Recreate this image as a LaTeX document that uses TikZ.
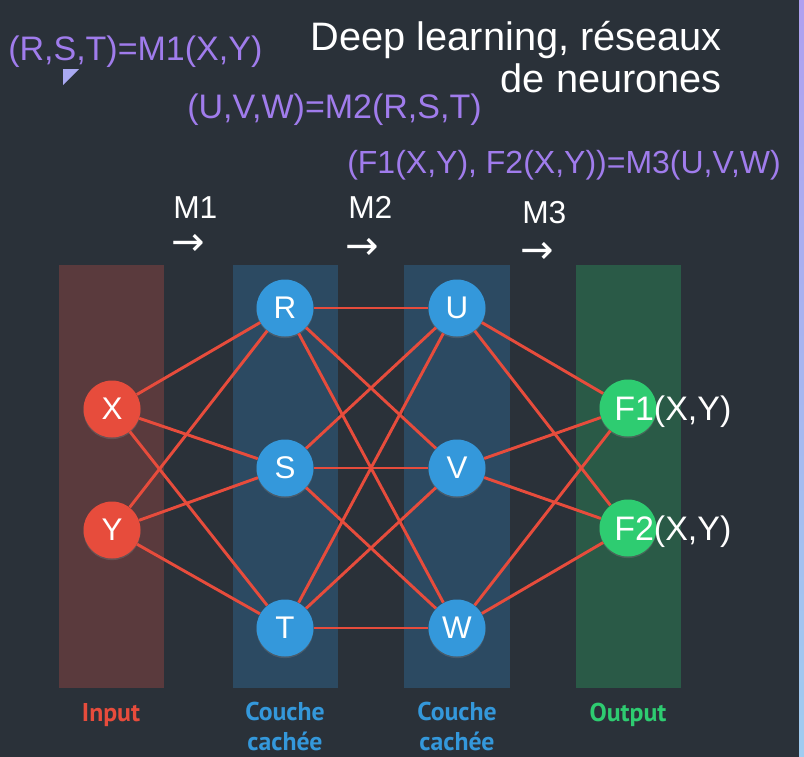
\documentclass[tikz,border=0pt]{standalone}
\usepackage{fontspec}
\setmainfont{Liberation Sans}
\newfontfamily\capfont{PT Sans}
\newfontfamily\arrowfont{DejaVu Sans}
\usetikzlibrary{shadows}

\definecolor{bgcol}{HTML}{2A3139}
\definecolor{incol}{HTML}{5A3A3D}
\definecolor{hidcol}{HTML}{2C4A62}
\definecolor{outcol}{HTML}{2A5A47}
\definecolor{nodered}{HTML}{E74C3C}
\definecolor{nodeblue}{HTML}{3498DB}
\definecolor{nodegreen}{HTML}{2ECC71}
\definecolor{formcol}{HTML}{A07CEC}
\definecolor{tricol}{HTML}{A9A9F2}
\definecolor{stripA}{HTML}{AFA0F0}
\definecolor{stripB}{HTML}{A0CCF0}

\begin{document}
\begin{tikzpicture}[x=0.75pt,y=-0.75pt]

  \tikzstyle{neuron}=[circle,minimum size=42.75pt,inner sep=0pt,text=white,font=\fontsize{23.5}{23.5}\selectfont,drop shadow={opacity=0.35,shadow xshift=0pt,shadow yshift=-1.2pt}]
  \tikzstyle{innode}=[neuron,fill=nodered,node distance=90.75pt]
  \tikzstyle{hidnode}=[neuron,fill=nodeblue,node distance=120pt]
  \tikzstyle{outnode}=[neuron,fill=nodegreen,node distance=90pt]

  \tikzstyle{titletext}=[anchor=base east,inner sep=0pt,text=white,font=\fontsize{29.8}{31.5}\selectfont]
  \tikzstyle{formula}=[anchor=base west,inner sep=0pt,text=formcol,font=\fontsize{25.5}{25.5}\selectfont]
  \tikzstyle{steplab}=[anchor=base west,inner sep=0pt,text=white,font=\fontsize{23.8}{23.8}\selectfont]
  \tikzstyle{steparrow}=[inner sep=0pt,text=white,font=\arrowfont\fontsize{30}{30}\selectfont]
  \tikzstyle{outtext}=[anchor=base west,inner sep=0pt,text=white,font=\fontsize{25.5}{25.5}\selectfont]
  \tikzstyle{collab}=[anchor=base,inner sep=0pt,align=center,font=\capfont\bfseries\fontsize{19.3}{21.8}\selectfont]

  \tikzstyle{link}=[draw=nodered,line width=2.2pt]

  % background and layers
  \fill[bgcol] (0,0) rectangle (804,757);
  \useasboundingbox (0,0) rectangle (804,757);

  \fill[incol]  (59,265)  rectangle (164,688);
  \fill[hidcol] (233,265) rectangle (338,688);
  \fill[hidcol] (404,265) rectangle (510,688);
  \fill[outcol] (576,265) rectangle (681,688);

  % texts
  \node[titletext] (title1) at (722,50) {Deep learning, réseaux};
  \node[titletext] (title2) at (722,92) {de neurones};

  \node[formula] (m1eq) at (8,60)    {(R,S,T)=M1(X,Y)};
  \node[formula] (m2eq) at (187,118) {(U,V,W)=M2(R,S,T)};
  \node[formula,font=\fontsize{24}{24}\selectfont] (m3eq) at (347,173) {(F1(X,Y), F2(X,Y))=M3(U,V,W)};
  \fill[tricol] (63,69) -- (79,69) -- (63,85) -- cycle;

  \node[steplab] (m1) at (173,218) {M1};
  \node[steplab] (m2) at (348,218) {M2};
  \node[steplab] (m3) at (522,223) {M3};
  \node[steparrow] (m1arr) at (188,245) {→};
  \node[steparrow] (m2arr) at (362,249) {→};
  \node[steparrow] (m3arr) at (537,253) {→};

  % nodes
  \node[innode] (x) at (112,409) {X};
  \node[innode] (y) [below of=x] {Y};

  \node[hidnode] (r) at (285,308) {R};
  \node[hidnode] (s) [below of=r] {S};
  \node[hidnode] (t) [below of=s] {T};

  \node[hidnode] (u) at (457,308) {U};
  \node[hidnode] (v) [below of=u] {V};
  \node[hidnode] (w) [below of=v] {W};

  \node[outnode] (f1) at (628,408) {};
  \node[outnode] (f2) [below of=f1] {};
  \node[outtext] (f1txt) at (614,420) {F1(X,Y)};
  \node[outtext] (f2txt) at (614,540) {F2(X,Y)};

  % links
  \draw[link] (x) -- (r);  \draw[link] (x) -- (s);  \draw[link] (x) -- (t);
  \draw[link] (y) -- (r);  \draw[link] (y) -- (s);  \draw[link] (y) -- (t);

  \draw[link] (r) -- (u);  \draw[link] (r) -- (v);  \draw[link] (r) -- (w);
  \draw[link] (s) -- (u);  \draw[link] (s) -- (v);  \draw[link] (s) -- (w);
  \draw[link] (t) -- (u);  \draw[link] (t) -- (v);  \draw[link] (t) -- (w);

  \draw[link] (u) -- (f1); \draw[link] (u) -- (f2);
  \draw[link] (v) -- (f1); \draw[link] (v) -- (f2);
  \draw[link] (w) -- (f1); \draw[link] (w) -- (f2);

  % layer names (base = last line)
  \node[collab,text=nodered]   (inlab)   at (111,721) {Input};
  \node[collab,text=nodeblue]  (hid1lab) at (285,750) {Couche\\cachée};
  \node[collab,text=nodeblue]  (hid2lab) at (457,750) {Couche\\cachée};
  \node[collab,text=nodegreen] (outlab)  at (628,721) {Output};

  \shade[top color=stripA,bottom color=stripB] (799,0) rectangle (804,757);

\end{tikzpicture}
\end{document}
